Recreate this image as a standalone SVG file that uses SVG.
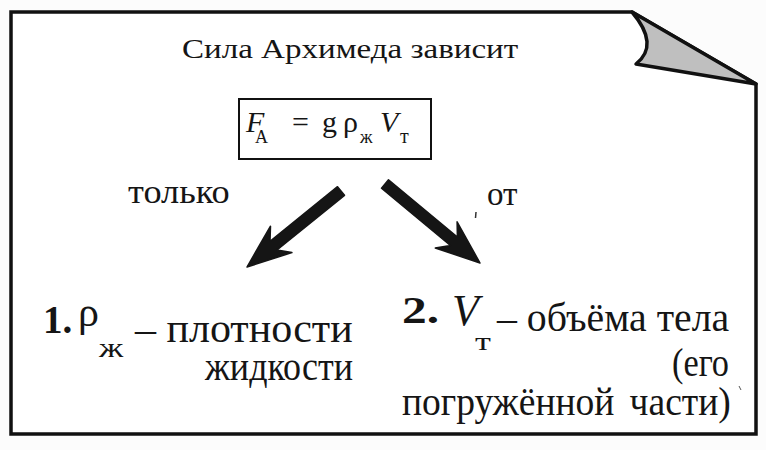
<svg xmlns="http://www.w3.org/2000/svg" width="766" height="450" viewBox="0 0 766 450">
<style>
.t{fill:#151515}
.i{font-style:italic}
.b{font-weight:bold}
.arrow{fill:#151515;stroke:#151515;stroke-width:1.5;stroke-linejoin:round}
</style>
<rect x="0" y="0" width="766" height="450" fill="#fcfcfc"/>
<g id="frame">
<path d="M11,12 H632 L756,84 V434 H11 Z" fill="#ffffff" stroke="#111" stroke-width="3.5" stroke-linejoin="miter"/>
<path d="M632,12 Q660,45 636,64 L756,84 Z" fill="#bfbfbf" stroke="#111" stroke-width="3.5" stroke-linejoin="round"/>
</g>
<g font-family="Liberation Serif" fill="#151515">
<g id="title">
<text transform="translate(182,58) scale(1.18,1)" font-size="28">Сила Архимеда зависит</text>
</g>
<g id="formula">
<rect x="239" y="99" width="192" height="60" fill="none" stroke="#111" stroke-width="2"/>
<text class="i" x="246" y="132" font-size="30">F</text>
<text x="255" y="143" font-size="18">А</text>
<text x="292" y="132" font-size="30">=</text>
<text x="322" y="132" font-size="30">g</text>
<text x="343" y="132" font-size="30">ρ</text>
<text x="360" y="143" font-size="18">ж</text>
<text class="i" x="380" y="132" font-size="30">V</text>
<text x="400" y="143" font-size="20">т</text>
</g>
<g id="label-only">
<text transform="translate(128,203) scale(1.1,1)" font-size="33">только</text>
</g>
<g id="label-ot">
<text x="487" y="205" font-size="33">от</text>
<line x1="476" y1="212" x2="475.5" y2="218" stroke="#333" stroke-width="1.5"/>
</g>
<g id="item1">
<text class="b" x="43" y="333" font-size="39">1.</text>
<text x="78" y="326" font-size="42">ρ</text>
<text transform="translate(99,357) scale(1.3,1)" font-size="27">ж</text>
<text transform="translate(135,342) scale(1.05,1)" font-size="40">– плотности</text>
<text transform="translate(205,380) scale(0.9,1)" font-size="40">жидкости</text>
</g>
<g id="item2">
<text class="b" transform="translate(402,323) scale(1.3,1)" font-size="38">2.</text>
<text class="i" x="452" y="325" font-size="44">V</text>
<text transform="translate(475,350) scale(1.4,1)" font-size="26">т</text>
<text transform="translate(497,331) scale(1.02,1)" font-size="39">– объёма тела</text>
<text transform="translate(672,376) scale(0.88,1)" font-size="39">(его</text>
<text transform="translate(402,415) scale(0.963,1)" font-size="39" word-spacing="6">погружённой части)</text>
<line x1="739" y1="386" x2="741" y2="390" stroke="#555" stroke-width="1"/>
</g>
</g>
<g id="connectors">
<polygon class="arrow" points="337.5,186.7 270,241.3 270.5,226.2 247,267 291.9,252.6 277,249.9 344.5,195.3"/>
<polygon class="arrow" points="388.5,179.8 457.4,237.1 457.1,221.8 480,263 435.3,248 450.4,245.5 381.5,188.2"/>
</g>
</svg>
